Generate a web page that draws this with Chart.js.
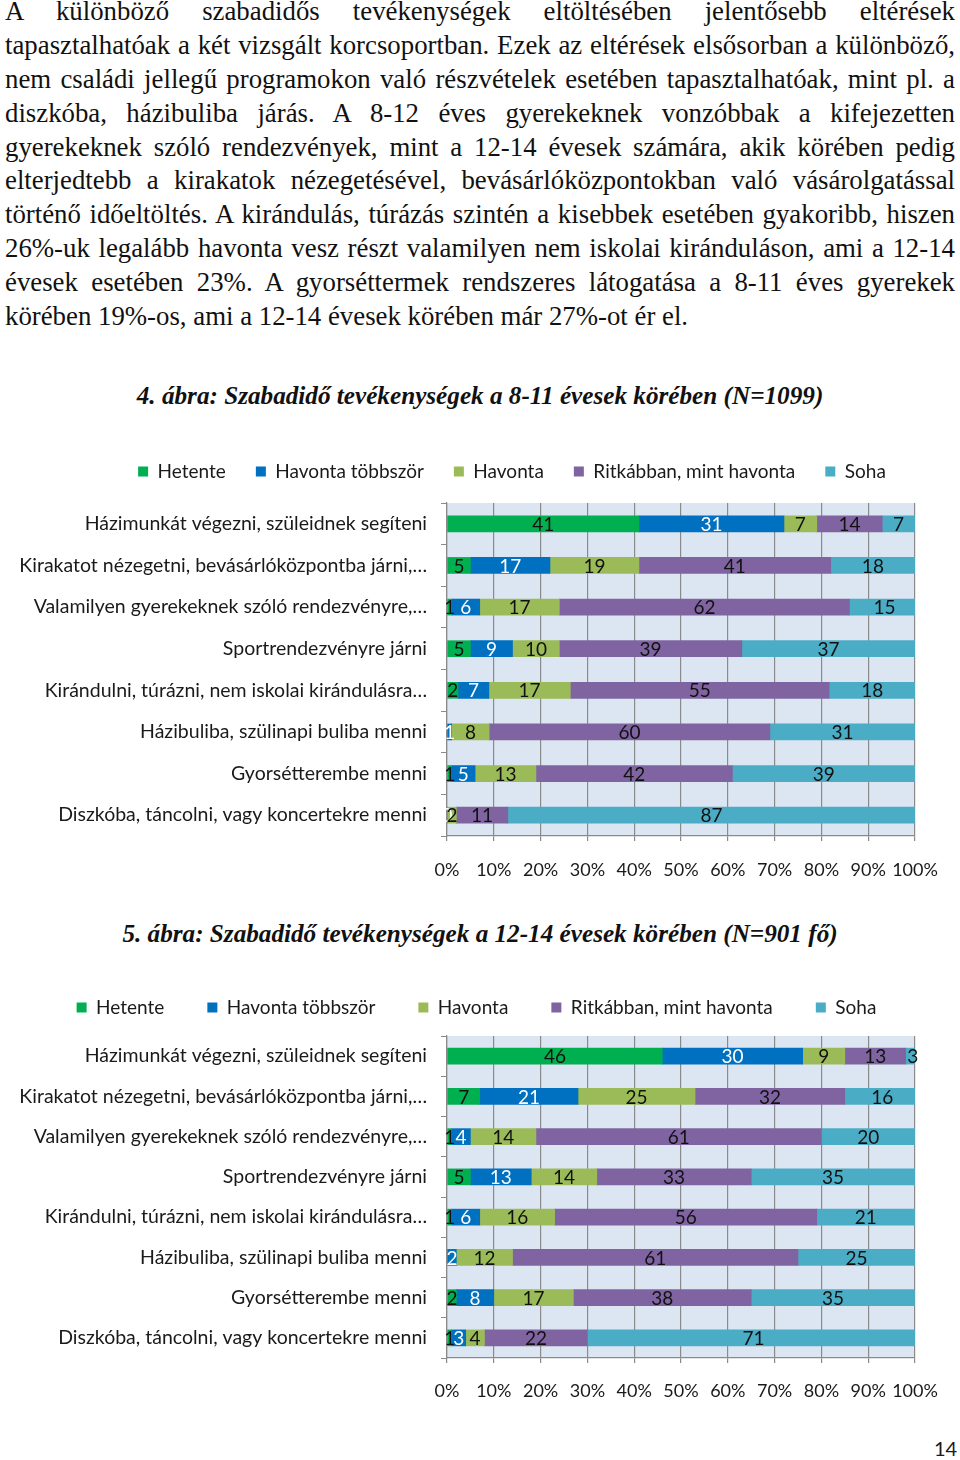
<!DOCTYPE html>
<html><head><meta charset="utf-8">
<script src="https://cdn.jsdelivr.net/npm/chart.js@4.4.1/dist/chart.umd.min.js"></script>
<style>
html,body{margin:0;padding:0;background:#fff;}
body{width:960px;height:1460px;overflow:hidden;position:relative;}
.p{position:absolute;left:5px;top:-5px;width:950px;font-family:"Liberation Serif",serif;font-size:26.8px;color:#111;}
.p div{white-space:nowrap;text-align:justify;text-align-last:justify;height:33.9px;line-height:33.9px;}
.p div.last{text-align:left;text-align-last:left;}
.t{position:absolute;left:0;width:960px;text-align:center;font-family:"Liberation Serif",serif;font-weight:bold;font-style:italic;font-size:25.2px;line-height:34px;color:#111;}
.c{position:absolute;left:0;width:960px;}
.pg{position:absolute;left:934px;top:1436px;font-family:Lato,sans-serif;font-size:20px;color:#1a1a1a;}
</style></head><body>
<div class="p">
<div>A különböző szabadidős tevékenységek eltöltésében jelentősebb eltérések</div>
<div>tapasztalhatóak a két vizsgált korcsoportban. Ezek az eltérések elsősorban a különböző,</div>
<div>nem családi jellegű programokon való részvételek esetében tapasztalhatóak, mint pl. a</div>
<div>diszkóba, házibuliba járás. A 8-12 éves gyerekeknek vonzóbbak a kifejezetten</div>
<div>gyerekeknek szóló rendezvények, mint a 12-14 évesek számára, akik körében pedig</div>
<div>elterjedtebb a kirakatok nézegetésével, bevásárlóközpontokban való vásárolgatással</div>
<div>történő időeltöltés. A kirándulás, túrázás szintén a kisebbek esetében gyakoribb, hiszen</div>
<div>26%-uk legalább havonta vesz részt valamilyen nem iskolai kiránduláson, ami a 12-14</div>
<div>évesek esetében 23%. A gyorséttermek rendszeres látogatása a 8-11 éves gyerekek</div>
<div class="last">körében 19%-os, ami a 12-14 évesek körében már 27%-ot ér el.</div>
</div>
<div class="t" style="top:379px">4. ábra: Szabadidő tevékenységek a 8-11 évesek körében (N=1099)</div>
<div class="c" style="top:432px;height:460px"><canvas id="c1"></canvas></div>
<div class="t" style="top:917px">5. ábra: Szabadidő tevékenységek a 12-14 évesek körében (N=901 fő)</div>
<div class="c" style="top:955px;height:455px"><canvas id="c2"></canvas></div>
<div class="pg">14</div>
<script>
const categories = [
  "Házimunkát végezni, szüleidnek segíteni",
  "Kirakatot nézegetni, bevásárlóközpontba járni,…",
  "Valamilyen gyerekeknek szóló rendezvényre,…",
  "Sportrendezvényre járni",
  "Kirándulni, túrázni, nem iskolai kirándulásra…",
  "Házibuliba, szülinapi buliba menni",
  "Gyorsétterembe menni",
  "Diszkóba, táncolni, vagy koncertekre menni"
];
const seriesNames = ["Hetente","Havonta többször","Havonta","Ritkábban, mint havonta","Soha"];
const xTicks = [0,10,20,30,40,50,60,70,80,90,100];

// 4. ábra: 8-11 évesek (%; labels show rounded values)
const a_hetente   = [41, 5, 1, 5, 2.35, null, 1, null];
const a_havTobb   = [31, 17, 6, 9, 6.6, 1, 5, 0];
const a_havonta   = [7, 19, 17, 10, 17.4, 8, 13, 2];
const a_ritkabban = [14, 41, 62, 39, 55.3, 60, 42, 11];
const a_soha      = [7, 18, 15, 37, 18.4, 31, 39, 87];

// 5. ábra: 12-14 évesek
const b_hetente   = [46, 7, 1, 5, 1, null, 2, 1];
const b_havTobb   = [30, 21, 4, 13, 6, 2, 8, 3];
const b_havonta   = [9, 25, 14, 14, 16, 12, 17, 4];
const b_ritkabban = [13, 32, 61, 33, 56, 61, 38, 22];
const b_soha      = [3, 16, 20, 35, 21, 25, 35, 71];

const colors = ["#00b050","#0070c0","#9bbb59","#8064a2","#4bacc6"];
const labelColors = ["#111","#fff","#111","#111","#111"];
const FONT = "Lato, 'Open Sans', sans-serif";
const GRID = "#8a8a8a";

const bgPlugin = {
  id:'plotBg',
  beforeDraw(chart){
    const {ctx, chartArea:a} = chart;
    ctx.save(); ctx.fillStyle = '#dce6f2';
    ctx.fillRect(a.left, a.top, a.right-a.left, a.bottom-a.top);
    ctx.restore();
  }
};
const valuePlugin = {
  id:'values',
  afterDatasetsDraw(chart){
    const ctx = chart.ctx;
    ctx.save();
    ctx.font = "19px " + FONT;
    ctx.textAlign = 'center'; ctx.textBaseline = 'middle';
    chart.data.datasets.forEach((ds,i)=>{
      const meta = chart.getDatasetMeta(i);
      meta.data.forEach((el,j)=>{
        const v = ds.data[j];
        if (v === null || v === undefined) return;
        const p = el.getCenterPoint();
        ctx.fillStyle = labelColors[i];
        ctx.fillText(String(Math.round(v)), p.x, p.y + 1);
      });
    });
    ctx.restore();
  }
};
const legendFitPlugin = {
  id:'legendFit',
  beforeInit(chart, args, opts){
    const lg = chart.legend;
    if (!lg) return;
    const orig = lg.fit.bind(lg);
    lg.fit = function(){ orig(); this.height = opts.height; };
  },
  afterLayout(chart, args, opts){
    const lg = chart.legend;
    if (!lg) return;
    lg.left += opts.dx; lg.right += opts.dx;
  }
};

function makeChart(id, series, cfg){
  const datasets = series.map((d,i)=>({
    label: seriesNames[i], data: d, backgroundColor: colors[i],
    borderWidth: 0, barThickness: 16
  }));
  return new Chart(document.getElementById(id), {
    type:'bar',
    data:{ labels: categories, datasets },
    plugins:[bgPlugin, valuePlugin, legendFitPlugin],
    options:{
      indexAxis:'y', responsive:true, maintainAspectRatio:false, animation:false,
      layout:{ padding:{ left: 0, right: 45, top: 0, bottom: 0 } },
      plugins:{
        legendFit:{ height: cfg.legendH, dx: cfg.legendCenter - 915/2 },
        legend:{ position:'top', align:'center',
          labels:{ font:{family:FONT, size:19}, color:'#1a1a1a', boxWidth:10, boxHeight:10, padding: cfg.legendPad } },
        tooltip:{enabled:false}
      },
      scales:{
        x:{ stacked:true, min:0, max:100,
          afterBuildTicks(s){ s.ticks = xTicks.map(v=>({value:v})); },
          ticks:{ callback:v=>v+'%', font:{family:FONT,size:18}, color:'#1a1a1a', padding: cfg.xPad, maxRotation:0, autoSkip:false },
          grid:{ color:GRID, lineWidth:1.2, tickLength:5, drawTicks:true },
          border:{ display:true, color:GRID, width:1.2 },
          afterFit(s){ s.height = cfg.xH; }
        },
        y:{ stacked:true,
          ticks:{ font:{family:FONT,size:19.5}, color:'#1a1a1a', padding: 14, autoSkip:false },
          grid:{ drawOnChartArea:false, color:GRID, tickLength:6, drawTicks:true },
          border:{ display:true, color:GRID, width:1.2 },
          afterFit(s){ s.width = 447; }
        }
      }
    }
  });
}

makeChart('c1', [a_hetente,a_havTobb,a_havonta,a_ritkabban,a_soha],
  { legendCenter:512, legendPad:30, legendH:71, xH:56, xPad:18 });
makeChart('c2', [b_hetente,b_havTobb,b_havonta,b_ritkabban,b_soha],
  { legendCenter:476.5, legendPad:43, legendH:81, xH:52, xPad:17 });
</script>
</body></html>
